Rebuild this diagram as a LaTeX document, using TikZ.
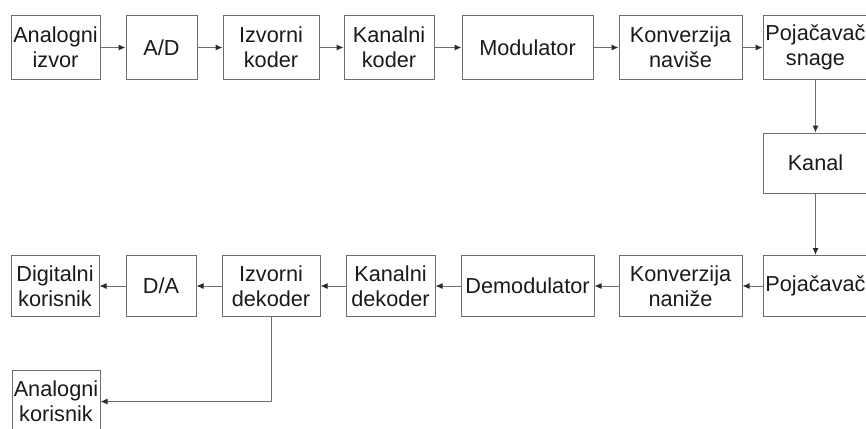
\documentclass[tikz,border=0pt]{standalone}
\usepackage{fontspec}
\setmainfont{Liberation Sans}
\usetikzlibrary{arrows.meta}
\definecolor{linec}{HTML}{6E6E6E}
\definecolor{tipc}{HTML}{2A2A2A}
\definecolor{txtc}{HTML}{1A1A1A}
\tikzset{
  blk/.style={draw=linec, line width=1pt, rectangle, inner sep=0pt, align=center,
    text=txtc, font=\fontsize{21.7}{25}\selectfont},
  conn/.style={draw=linec, line width=1pt, -{Latex[length=7pt,width=6pt,color=tipc]}}
}
\begin{document}
\begin{tikzpicture}[x=1pt,y=-1pt]
\useasboundingbox (0,0) rectangle (866,428);
% top row
\node[blk, minimum width=89pt, minimum height=63pt] (ai) at (55.5,47.5) {Analogni\\izvor};
\node[blk, minimum width=71pt, minimum height=63pt] (ad) at (161.5,47.5) {A/D};
\node[blk, minimum width=96pt, minimum height=63pt] (ik) at (271,47.5) {Izvorni\\koder};
\node[blk, minimum width=90pt, minimum height=63pt] (kk) at (389,47.5) {Kanalni\\koder};
\node[blk, minimum width=131pt, minimum height=63pt] (mod) at (527.5,47.5) {Modulator};
\node[blk, minimum width=123pt, minimum height=63pt] (kv) at (680.5,47.5) {Konverzija\\naviše};
\node[blk, minimum width=105pt, minimum height=63pt] (ps) at (815.5,47.5) {Pojačavač\\snage};
% channel
\node[blk, minimum width=105pt, minimum height=60pt] (kan) at (815.5,163) {Kanal};
% bottom row
\node[blk, minimum width=105pt, minimum height=61pt] (pj) at (815.5,286) {Pojačavač};
\node[blk, minimum width=123pt, minimum height=61pt] (kn) at (680.5,286) {Konverzija\\naniže};
\node[blk, minimum width=133pt, minimum height=61pt] (dem) at (527.5,286) {Demodulator};
\node[blk, minimum width=89pt, minimum height=61pt] (kd) at (390.5,286) {Kanalni\\dekoder};
\node[blk, minimum width=98pt, minimum height=61pt] (id) at (271,286) {Izvorni\\dekoder};
\node[blk, minimum width=70pt, minimum height=61pt] (da) at (161,286) {D/A};
\node[blk, minimum width=88pt, minimum height=61pt] (dk) at (55,286) {Digitalni\\korisnik};
\node[blk, minimum width=88pt, minimum height=63pt] (ak) at (56,401.5) {Analogni\\korisnik};
% connectors
\draw[conn] (ai) -- (ad);
\draw[conn] (ad) -- (ik);
\draw[conn] (ik) -- (kk);
\draw[conn] (kk) -- (mod);
\draw[conn] (mod) -- (kv);
\draw[conn] (kv) -- (ps);
\draw[conn] (ps) -- (kan);
\draw[conn] (kan) -- (pj);
\draw[conn] (pj) -- (kn);
\draw[conn] (kn) -- (dem);
\draw[conn] (dem) -- (kd);
\draw[conn] (kd) -- (id);
\draw[conn] (id) -- (da);
\draw[conn] (da) -- (dk);
\draw[conn] (id.south) |- (ak.east);
\end{tikzpicture}
\end{document}
